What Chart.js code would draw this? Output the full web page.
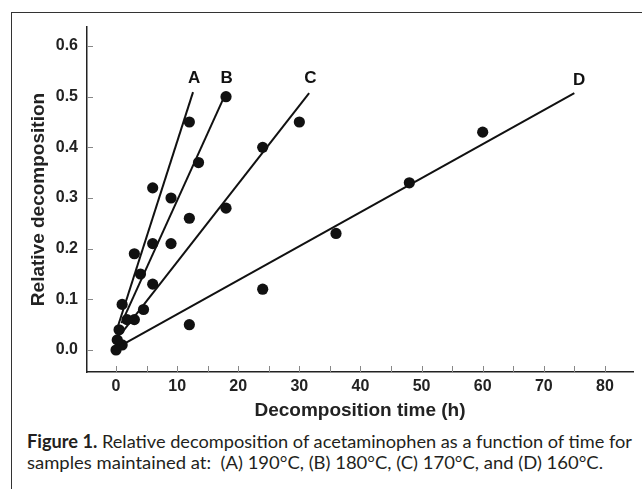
<!DOCTYPE html>
<html>
<head>
<meta charset="utf-8">
<script src="https://cdn.jsdelivr.net/npm/chart.js@4.4.1/dist/chart.umd.min.js"></script>
<style>
    html, body { margin: 0; padding: 0; background: #fff; }
    body { width: 642px; height: 489px; position: relative; overflow: hidden; }
    #frame {
        position: absolute; left: 11px; top: 12px; width: 700px; height: 600px;
        border-left: 1.5px solid #333; border-top: 1.5px solid #333;
    }
    #chart { position: absolute; left: 0; top: 0; }
    .caption {
        position: absolute; left: 27px; white-space: nowrap;
        font-family: Lato, 'Open Sans', sans-serif;
        font-size: 18px; line-height: 20px; color: #231f20;
        transform-origin: 0 0;
    }
</style>
</head>
<body>
<div id="frame"></div>
<canvas id="chart" width="642" height="430"></canvas>
<div class="caption" id="cap1" data-width="605" style="top:431px"><b>Figure 1.</b> Relative decomposition of acetaminophen as a function of time for</div>
<div class="caption" id="cap2" data-width="576" style="top:452px">samples maintained at:&nbsp; (A) 190°C, (B) 180°C, (C) 170°C, and (D) 160°C.</div>
<script>
    'use strict';

    const INK = '#111';
    const AXIS_FONT = "'Liberation Sans', Arial, sans-serif";

    // measured points, decomposition time (h) vs relative decomposition
    const hoursA = [0, 0.5, 1, 3, 6, 12];
    const decompA = [0, 0.04, 0.09, 0.19, 0.32, 0.45];
    const hoursB = [0.2, 1.8, 4, 6, 9, 13.5, 18];
    const decompB = [0.02, 0.06, 0.15, 0.21, 0.30, 0.37, 0.50];
    const hoursC = [1, 3, 4.5, 6, 9, 12, 18, 24, 30];
    const decompC = [0.01, 0.06, 0.08, 0.13, 0.21, 0.26, 0.28, 0.40, 0.45];
    const hoursD = [12, 24, 36, 48, 60];
    const decompD = [0.05, 0.12, 0.23, 0.33, 0.43];

    // fitted lines (end points)
    const fitHoursA = [0, 12.6];
    const fitDecompA = [0.035, 0.509];
    const fitHoursB = [0.9, 17.6];
    const fitDecompB = [0.053, 0.497];
    const fitHoursC = [1, 31.6];
    const fitDecompC = [0.035, 0.507];
    const fitHoursD = [1, 75];
    const fitDecompD = [0.01, 0.507];

    // curve letters
    const curveNames = ['A', 'B', 'C', 'D'];
    const curveNameHours = [12.8, 18.1, 31.8, 75.8];
    const curveNameDecomp = [0.536, 0.536, 0.536, 0.533];

    function toPoints(xs, ys) {
        return xs.map(function (x, i) { return { x: x, y: ys[i] }; });
    }

    function fitLine(xs, ys) {
        return {
            type: 'line',
            data: toPoints(xs, ys),
            borderColor: INK,
            borderWidth: 2,
            pointRadius: 0,
            fill: false,
            showLine: true,
        };
    }

    function dots(xs, ys) {
        return {
            type: 'scatter',
            data: toPoints(xs, ys),
            pointRadius: 5.6,
            pointBorderWidth: 0,
            pointBackgroundColor: INK,
            showLine: false,
        };
    }

    const axisTicks = {
        id: 'axisTicks',
        afterDraw: function (chart) {
            const { ctx, chartArea, scales } = chart;
            ctx.save();
            ctx.strokeStyle = '#888';
            ctx.lineWidth = 1;
            scales.x.ticks.forEach(function (t) {
                const px = Math.round(scales.x.getPixelForValue(t.value)) + 0.5;
                ctx.beginPath();
                ctx.moveTo(px, chartArea.bottom);
                ctx.lineTo(px, chartArea.bottom - 6);
                ctx.stroke();
            });
            scales.y.ticks.forEach(function (t) {
                const py = Math.round(scales.y.getPixelForValue(t.value)) + 0.5;
                ctx.beginPath();
                ctx.moveTo(chartArea.left, py);
                ctx.lineTo(chartArea.left + 6, py);
                ctx.stroke();
            });
            ctx.restore();
        },
    };

    const curveLabels = {
        id: 'curveLabels',
        afterDatasetsDraw: function (chart) {
            const { ctx, scales } = chart;
            ctx.save();
            ctx.fillStyle = INK;
            ctx.font = 'bold 17px ' + AXIS_FONT;
            ctx.textAlign = 'center';
            ctx.textBaseline = 'middle';
            curveNames.forEach(function (name, i) {
                ctx.fillText(name, scales.x.getPixelForValue(curveNameHours[i]), scales.y.getPixelForValue(curveNameDecomp[i]));
            });
            ctx.restore();
        },
    };

    new Chart(document.getElementById('chart'), {
        type: 'scatter',
        data: {
            datasets: [
                fitLine(fitHoursA, fitDecompA),
                fitLine(fitHoursB, fitDecompB),
                fitLine(fitHoursC, fitDecompC),
                fitLine(fitHoursD, fitDecompD),
                dots(hoursA, decompA),
                dots(hoursB, decompB),
                dots(hoursC, decompC),
                dots(hoursD, decompD),
            ],
        },
        options: {
            responsive: false,
            animation: false,
            layout: { padding: { top: 27, right: 9, left: 0, bottom: 0 } },
            plugins: { legend: { display: false }, tooltip: { enabled: false } },
            scales: {
                x: {
                    type: 'linear',
                    min: -4.75,
                    max: 84.6,
                    afterFit: function (s) { s.height = 58; },
                    grid: { display: false, drawTicks: false },
                    border: { display: true, color: '#222', width: 1.5 },
                    ticks: {
                        stepSize: 5,
                        includeBounds: false,
                        autoSkip: false,
                        maxRotation: 0,
                        padding: 5,
                        color: '#222',
                        font: { family: AXIS_FONT, size: 16, weight: 'bold' },
                        callback: function (v) { return v % 10 === 0 ? String(v) : ''; },
                    },
                    title: {
                        display: true,
                        text: 'Decomposition time (h)',
                        color: '#222',
                        font: { family: AXIS_FONT, size: 19, weight: 'bold' },
                        padding: { top: 0, bottom: 8 },
                    },
                },
                y: {
                    type: 'linear',
                    min: -0.0434,
                    max: 0.6375,
                    afterFit: function (s) { s.width = 87; },
                    grid: { display: false, drawTicks: false },
                    border: { display: true, color: '#222', width: 1.5 },
                    ticks: {
                        stepSize: 0.1,
                        includeBounds: false,
                        padding: 9,
                        color: '#222',
                        font: { family: AXIS_FONT, size: 16, weight: 'bold' },
                        callback: function (v) { return Number(v).toFixed(1); },
                    },
                    title: {
                        display: true,
                        text: 'Relative decomposition',
                        color: '#222',
                        font: { family: AXIS_FONT, size: 19, weight: 'bold' },
                        padding: { top: 27, bottom: 0 },
                    },
                },
            },
        },
        plugins: [axisTicks, curveLabels],
    });

    // squeeze caption lines to the printed width
    document.querySelectorAll('.caption').forEach(function (el) {
        const target = Number(el.dataset.width);
        const w = el.getBoundingClientRect().width;
        if (w > 0) {
            el.style.transform = 'scaleX(' + (target / w) + ')';
        }
    });
</script>
</body>
</html>
